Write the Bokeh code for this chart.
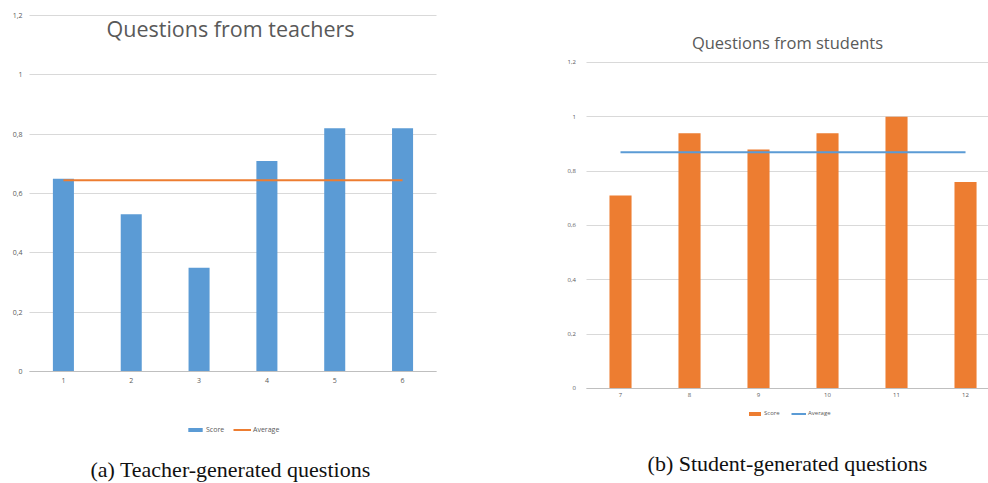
from bokeh.plotting import figure
from bokeh.models import (Range1d, FixedTicker, Label, Legend, LegendItem,
                          LinearAxis, Grid)
from bokeh.layouts import row, column
from bokeh.embed import file_html
from bokeh.resources import INLINE

# ---- data ----
teacher_questions = [1, 2, 3, 4, 5, 6]
teacher_scores = [0.65, 0.53, 0.35, 0.71, 0.82, 0.82]
teacher_avg_x = [1, 6]
teacher_avg_y = [0.645, 0.645]

student_questions = [7, 8, 9, 10, 11, 12]
student_scores = [0.71, 0.94, 0.88, 0.94, 1.0, 0.76]
student_avg_x = [7, 12]
student_avg_y = [0.87, 0.87]

y_ticks = [0, 0.2, 0.4, 0.6, 0.8, 1.0, 1.2]
y_tick_labels = ["0", "0,2", "0,4", "0,6", "0,8", "1", "1,2"]

BLUE = "#5B9BD5"
ORANGE = "#ED7D31"
GRID = "#D9D9D9"
TXT = "#595959"
H = 483


def make_panel(width, xr, yr, plot_x, cats, scores, avg_x, avg_y,
               bar_color, avg_color, bar_w, tick_size, y_standoff, x_standoff,
               title, title_size, title_xy, legend_xy, legend_font, glyph_w,
               caption, caption_xy):
    p = figure(width=width, height=H, output_backend="svg",
               toolbar_location=None, x_range=Range1d(*xr),
               y_range=Range1d(*yr), x_axis_type=None, y_axis_type=None,
               min_border=0, min_border_left=0, min_border_right=0,
               min_border_top=0, min_border_bottom=0)
    p.title = None
    p.outline_line_color = None
    p.background_fill_color = "white"
    p.border_fill_color = "white"

    grid = Grid(dimension=1, ticker=FixedTicker(ticks=y_ticks),
                grid_line_color=GRID, grid_line_width=1,
                cross_bounds=(plot_x[0], plot_x[1]))
    p.add_layout(grid)

    bars = p.vbar(x=cats, top=scores, width=bar_w, fill_color=bar_color,
                  line_color=None)
    avg = p.line(x=avg_x, y=avg_y, line_color=avg_color, line_width=2)

    yaxis = LinearAxis(ticker=FixedTicker(ticks=y_ticks),
                       major_label_overrides={t: l for t, l in zip(y_ticks, y_tick_labels)},
                       fixed_location=plot_x[0], axis_line_color=None,
                       major_tick_line_color=None, minor_tick_line_color=None,
                       major_tick_out=0, major_tick_in=0,
                       minor_tick_out=0, minor_tick_in=0,
                       major_label_text_font_size=tick_size,
                       major_label_text_color=TXT,
                       major_label_text_font="Open Sans",
                       major_label_standoff=y_standoff)
    p.add_layout(yaxis, "left")

    xaxis = LinearAxis(ticker=FixedTicker(ticks=cats), fixed_location=0,
                       bounds=(plot_x[0], plot_x[1]),
                       axis_line_color="#BFBFBF", axis_line_width=1,
                       major_tick_line_color=None, minor_tick_line_color=None,
                       major_tick_out=0, major_tick_in=0,
                       minor_tick_out=0, minor_tick_in=0,
                       major_label_text_font_size=tick_size,
                       major_label_text_color=TXT,
                       major_label_text_font="Open Sans",
                       major_label_standoff=x_standoff)
    p.add_layout(xaxis, "below")

    p.add_layout(Label(x=title_xy[0], y=H - title_xy[1], x_units="screen",
                       y_units="screen", text=title, text_font="Open Sans",
                       text_font_size=title_size, text_color=TXT,
                       text_align="center", text_baseline="middle"))

    legend = Legend(items=[LegendItem(label="Score", renderers=[bars]),
                           LegendItem(label="Average", renderers=[avg])],
                    orientation="horizontal",
                    location=(legend_xy[0], H - legend_xy[1]),
                    label_text_font_size=legend_font,
                    label_text_font="Open Sans", label_text_color=TXT,
                    glyph_width=glyph_w, glyph_height=5,
                    label_height=6, label_standoff=2, spacing=7,
                    padding=0, margin=0, border_line_color=None,
                    background_fill_alpha=0)
    p.add_layout(legend)

    p.add_layout(Label(x=caption_xy[0], y=H - caption_xy[1], x_units="screen",
                       y_units="screen", text=caption,
                       text_font="Liberation Serif", text_font_size="22px",
                       text_color="#111111", text_align="center",
                       text_baseline="alphabetic"))
    return p


# left chart: figure spans page x 0..535
p1 = make_panel(535, (0.0725, 7.960), (-0.3775, 1.2506), (0.5, 6.5),
                teacher_questions, teacher_scores, teacher_avg_x, teacher_avg_y,
                BLUE, ORANGE, 0.31, "7px", 7, 6,
                "Questions from teachers", "21.5px", (230, 28),
                (186, 434), "7px", 18,
                "(a) Teacher-generated questions", (230, 469))

# right chart: figure spans page x 535..988
p2 = make_panel(453, (5.768, 12.333), (-0.3497, 1.4282), (6.5, 12.333),
                student_questions, student_scores, student_avg_x, student_avg_y,
                ORANGE, BLUE, 0.32, "6px", 10, 5,
                "Questions from students", "16.5px", (252, 42),
                (212, 417), "6px", 15,
                "(b) Student-generated questions", (252, 463))

layout = row(column(p1), column(p2))
open("out.html", "w").write(file_html(layout, INLINE))
